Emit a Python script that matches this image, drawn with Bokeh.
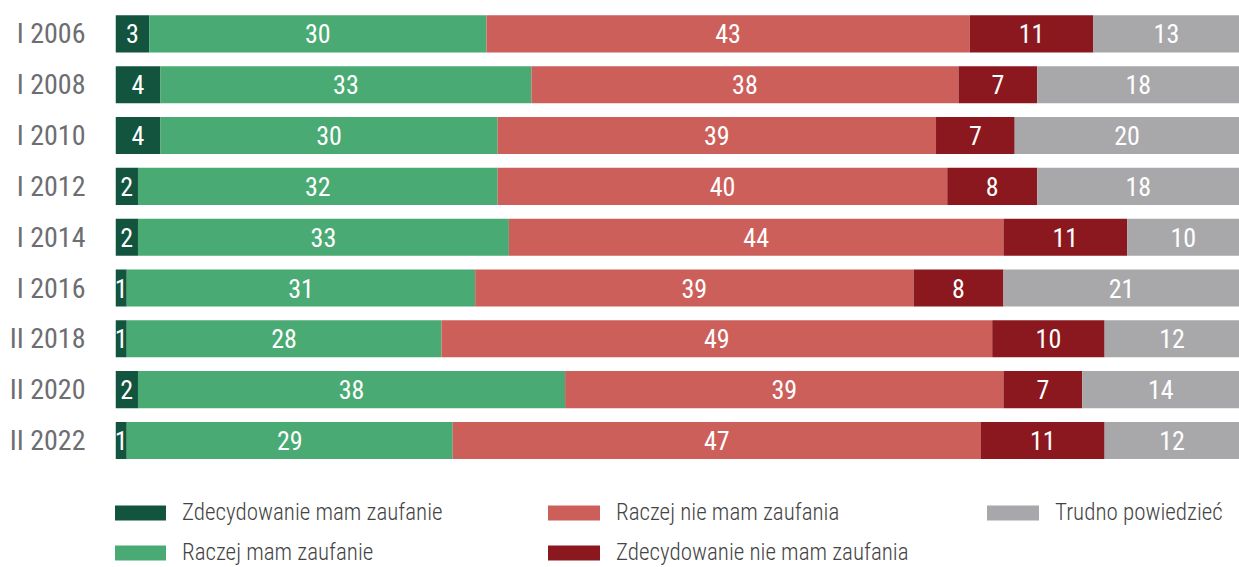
from bokeh.plotting import figure
from bokeh.models import ColumnDataSource, Range1d, Legend, LegendItem, FactorRange
from bokeh.core.properties import value
from bokeh.embed import file_html
from bokeh.resources import INLINE

categories = ["I 2006", "I 2008", "I 2010", "I 2012", "I 2014", "I 2016", "II 2018", "II 2020", "II 2022"]
zdecydowanie_mam = [3, 4, 4, 2, 2, 1, 1, 2, 1]
raczej_mam = [30, 33, 30, 32, 33, 31, 28, 38, 29]
raczej_nie = [43, 38, 39, 40, 44, 39, 49, 39, 47]
zdecydowanie_nie = [11, 7, 7, 8, 11, 8, 10, 7, 11]
trudno = [13, 18, 20, 18, 10, 21, 12, 14, 12]

series_names = ["Zdecydowanie mam zaufanie", "Raczej mam zaufanie", "Raczej nie mam zaufania",
                "Zdecydowanie nie mam zaufania", "Trudno powiedzieć"]
colors = ["#13543f", "#4aaa74", "#cd5f5b", "#8b181e", "#a8a8ab"]
FONT_AXIS = "Roboto Condensed"
FONT_BAR = "Roboto Condensed"
FONT_LEG = "Roboto Condensed Light"

keys = ["s0", "s1", "s2", "s3", "s4"]
series = [zdecydowanie_mam, raczej_mam, raczej_nie, zdecydowanie_nie, trudno]
data = {"cat": categories}
for k, s in zip(keys, series):
    data[k] = s
source = ColumnDataSource(data)

# two empty rows at the bottom leave room for the legend inside the frame
legend_rows = ["  ", " "]
y_range = FactorRange(factors=legend_rows + list(reversed(categories)))

p = figure(width=1239, height=567, y_range=y_range,
           x_range=Range1d(0, 100), output_backend="svg", toolbar_location=None,
           min_border_left=115, min_border_right=0, min_border_top=8, min_border_bottom=0)

renderers = p.hbar_stack(keys, y="cat", height=0.73, color=colors, line_color=None, source=source)

lx, ly, lt = [], [], []
for i, c in enumerate(categories):
    cum = 0
    for s in series:
        v = s[i]
        lx.append(cum + v / 2)
        ly.append(c)
        lt.append(str(v))
        cum += v
p.text(x=lx, y=ly, text=lt, text_color="white", text_align="center", text_baseline="middle",
       text_font=value(FONT_BAR), text_font_size="26px")

p.xaxis.visible = False
p.xgrid.grid_line_color = None
p.ygrid.grid_line_color = None
p.outline_line_color = None
p.yaxis.axis_line_color = None
p.yaxis.major_tick_line_color = None
p.yaxis.minor_tick_line_color = None
p.yaxis.major_label_text_font = FONT_AXIS
p.yaxis.major_label_text_font_size = "28px"
p.yaxis.major_label_text_color = "#6d6d72"
p.yaxis.major_label_standoff = 24


def make_legend(idx, x, y):
    items = [LegendItem(label=series_names[i], renderers=[renderers[i]]) for i in idx]
    lg = Legend(items=items, location=(x, y), orientation="vertical",
                glyph_width=65, glyph_height=19, label_standoff=10, label_height=24,
                spacing=13, padding=0, margin=0, border_line_color=None,
                background_fill_alpha=0, label_text_font=FONT_LEG, label_text_font_size="23px",
                label_text_color="#444444", label_text_baseline="middle")
    p.add_layout(lg, "center")


make_legend([0, 1], -8, 1)
make_legend([2, 3], 426, 1)
make_legend([4], 865, 41)

open("out.html", "w").write(file_html(p, INLINE))
